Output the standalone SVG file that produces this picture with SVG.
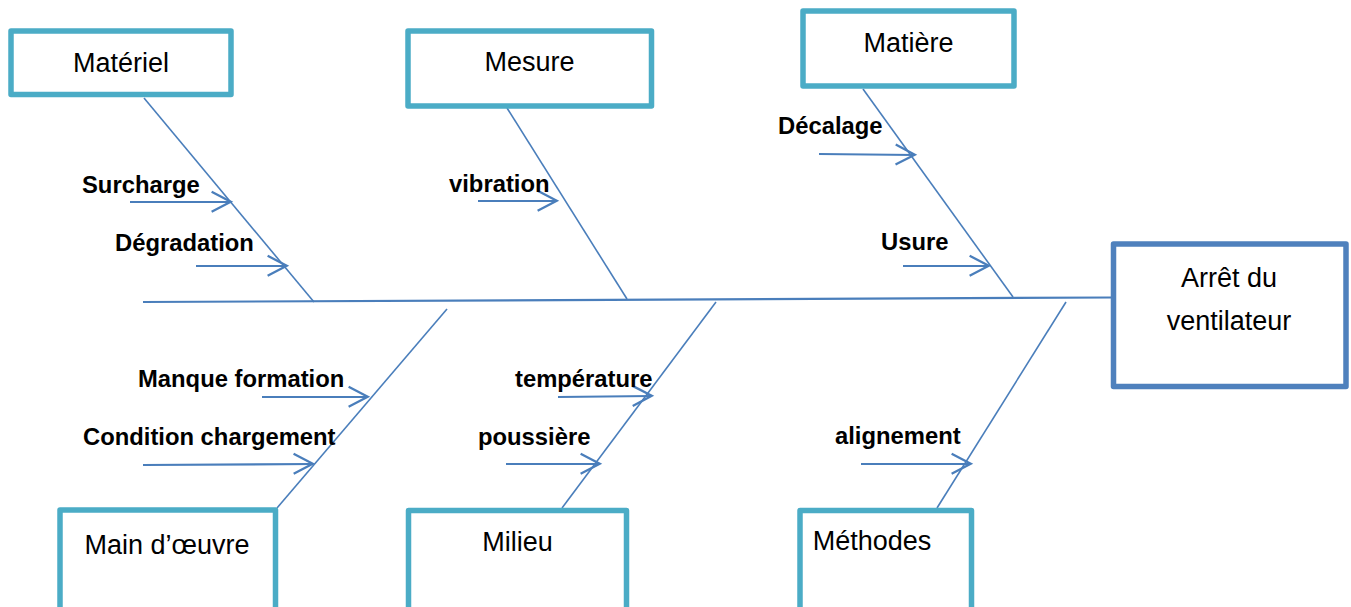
<svg xmlns="http://www.w3.org/2000/svg" width="1351" height="607" viewBox="0 0 1351 607">
<style>
.box{fill:#ffffff;stroke:#4BACC6;stroke-width:5.5;stroke-linejoin:round}
.effect{fill:#ffffff;stroke:#4F81BD;stroke-width:5.5;stroke-linejoin:round}
.lbl{font-family:"Liberation Sans",Arial,sans-serif;font-size:27px;fill:#000000;text-anchor:middle}
.cause{font-family:"Liberation Sans",Arial,sans-serif;font-size:23.8px;font-weight:bold;fill:#000000}
.bone{stroke:#4A7EBB;stroke-width:1.6;fill:none}
.spine{stroke:#4A7EBB;stroke-width:2.2;fill:none}
.arr{stroke:#4A7EBB;stroke-width:2.2;fill:none;marker-end:url(#chev)}
</style>
<defs>
<marker id="chev" markerWidth="12" markerHeight="12" refX="9.5" refY="5" orient="auto" markerUnits="userSpaceOnUse" viewBox="0 0 10 10" overflow="visible">
<path d="M1.2,0.6 L9.6,5 L1.2,9.4" fill="none" stroke="#4A7EBB" stroke-width="1" transform="scale(1.9) translate(-4.7,-2.5)"/>
</marker>
</defs>
<rect width="1351" height="607" fill="#ffffff"/>

<g id="connectors">
<line class="spine" x1="143" y1="302" x2="1112" y2="297.5"/>
<line class="bone" x1="144" y1="98" x2="314" y2="302"/>
<line class="bone" x1="507" y1="108" x2="627" y2="299"/>
<line class="bone" x1="863" y1="89" x2="1013" y2="297"/>
<line class="bone" x1="447" y1="309" x2="277" y2="508"/>
<line class="bone" x1="716" y1="302" x2="562" y2="508"/>
<line class="bone" x1="1066" y1="302" x2="937" y2="508"/>
<line class="arr" x1="130" y1="202" x2="231" y2="202"/>
<line class="arr" x1="196" y1="266" x2="287" y2="266"/>
<line class="arr" x1="478" y1="201" x2="557" y2="201"/>
<line class="arr" x1="819" y1="154" x2="915" y2="155"/>
<line class="arr" x1="903" y1="266" x2="989" y2="266"/>
<line class="arr" x1="262" y1="397" x2="368" y2="397"/>
<line class="arr" x1="143" y1="465" x2="313" y2="464"/>
<line class="arr" x1="558" y1="397" x2="652" y2="396"/>
<line class="arr" x1="506" y1="464" x2="600" y2="464"/>
<line class="arr" x1="861" y1="464" x2="971" y2="464"/>
</g>

<g id="causes">
<text class="cause" x="82" y="193">Surcharge</text>
<text class="cause" x="115" y="251">Dégradation</text>
<text class="cause" x="449" y="192">vibration</text>
<text class="cause" x="778" y="134">Décalage</text>
<text class="cause" x="881" y="250">Usure</text>
<text class="cause" x="138" y="387">Manque formation</text>
<text class="cause" x="83" y="445">Condition chargement</text>
<text class="cause" x="515" y="387">température</text>
<text class="cause" x="478" y="445">poussière</text>
<text class="cause" x="835" y="444">alignement</text>
</g>

<g id="materiel">
<rect class="box" x="11" y="31" width="220" height="63.5"/>
<text class="lbl" x="121" y="72">Matériel</text>
</g>
<g id="mesure">
<rect class="box" x="408" y="31" width="243.5" height="75"/>
<text class="lbl" x="529.5" y="71">Mesure</text>
</g>
<g id="matiere">
<rect class="box" x="803" y="11" width="211" height="75"/>
<text class="lbl" x="908.5" y="52">Matière</text>
</g>
<g id="arret">
<rect class="effect" x="1113.5" y="244" width="232.5" height="142.5"/>
<text class="lbl" x="1229" y="287">Arrêt du</text>
<text class="lbl" x="1229" y="330">ventilateur</text>
</g>
<g id="main-oeuvre">
<rect class="box" x="60" y="510" width="215.5" height="120"/>
<text class="lbl" x="167" y="554">Main d’œuvre</text>
</g>
<g id="milieu">
<rect class="box" x="408.5" y="510.5" width="218" height="120"/>
<text class="lbl" x="517.5" y="551">Milieu</text>
</g>
<g id="methodes">
<rect class="box" x="800" y="510.5" width="171.5" height="120"/>
<text class="lbl" x="872" y="550">Méthodes</text>
</g>
</svg>
